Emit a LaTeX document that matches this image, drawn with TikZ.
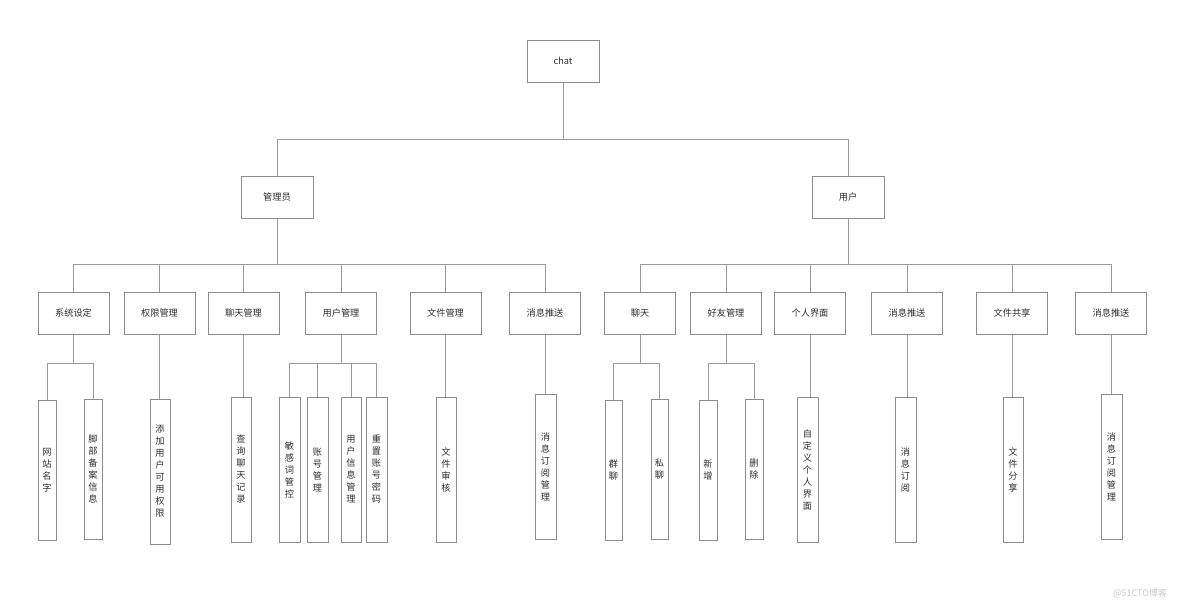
\documentclass[tikz,border=0pt]{standalone}
\usepackage{fontspec}
\newfontfamily\cjk{Noto Sans CJK SC}
\definecolor{linegray}{HTML}{9A9A9A}
\definecolor{boxgray}{HTML}{8C8C8C}
\definecolor{txtgray}{HTML}{2E2E2E}
\definecolor{wmgray}{HTML}{C8C8C8}
\tikzset{
  hbox/.style={draw=boxgray, line width=0.8pt, fill=white, text=txtgray,
    font=\cjk\fontsize{9.2}{12}\selectfont, inner sep=0pt,
    minimum width=71pt, minimum height=42pt},
  vbox/.style={draw=boxgray, line width=0.8pt, fill=white, text=txtgray,
    font=\cjk\fontsize{9.2}{12}\selectfont, inner sep=0pt, align=center,
    minimum width=20pt},
  conn/.style={draw=linegray, line width=0.8pt},
}
\begin{document}
\begin{tikzpicture}[x=1pt,y=-1pt]
\useasboundingbox (0,0) rectangle (1184,607);
% top
\node[hbox, minimum width=72pt] (chat) at (563,61) {chat};
\node[hbox, minimum width=72pt] (adm) at (277,197) {管理员};
\node[hbox, minimum width=72pt] (usr) at (848,197) {用户};
% level 2
\node[hbox] (a1) at (73.5,313) {系统设定};
\node[hbox] (a2) at (159.5,313) {权限管理};
\node[hbox] (a3) at (243.5,313) {聊天管理};
\node[hbox] (a4) at (341,313) {用户管理};
\node[hbox] (a5) at (445.5,313) {文件管理};
\node[hbox] (a6) at (545,313) {消息推送};
\node[hbox] (u1) at (640,313) {聊天};
\node[hbox] (u2) at (726,313) {好友管理};
\node[hbox] (u3) at (810,313) {个人界面};
\node[hbox] (u4) at (907,313) {消息推送};
\node[hbox] (u5) at (1012,313) {文件共享};
\node[hbox] (u6) at (1111,313) {消息推送};
% level 3
\node[vbox, minimum width=18pt, minimum height=140pt] (a11) at (47,470) {网\\站\\名\\字};
\node[vbox, minimum width=18pt, minimum height=140pt] (a12) at (93,469) {脚\\部\\备\\案\\信\\息};
\node[vbox, minimum height=145pt] (a21) at (160,471.5) {添\\加\\用\\户\\可\\用\\权\\限};
\node[vbox, minimum height=145pt] (a31) at (241,469.5) {查\\询\\聊\\天\\记\\录};
\node[vbox, minimum width=21pt, minimum height=145pt] (a41) at (289.5,469.5) {敏\\感\\词\\管\\控};
\node[vbox, minimum width=21pt, minimum height=145pt] (a42) at (317.5,469.5) {账\\号\\管\\理};
\node[vbox, minimum height=145pt] (a43) at (351,469.5) {用\\户\\信\\息\\管\\理};
\node[vbox, minimum width=21pt, minimum height=145pt] (a44) at (376.5,469.5) {重\\置\\账\\号\\密\\码};
\node[vbox, minimum height=145pt] (a51) at (446,469.5) {文\\件\\审\\核};
\node[vbox, minimum width=21pt, minimum height=145pt] (a61) at (545.5,466.5) {消\\息\\订\\阅\\管\\理};
\node[vbox, minimum width=17pt, minimum height=140pt] (u11) at (613.5,470) {群\\聊};
\node[vbox, minimum width=17pt, minimum height=140pt] (u12) at (659.5,469) {私\\聊};
\node[vbox, minimum width=18pt, minimum height=140pt] (u21) at (708,470) {新\\增};
\node[vbox, minimum width=18pt, minimum height=140pt] (u22) at (754,469) {删\\除};
\node[vbox, minimum width=21pt, minimum height=145pt] (u31) at (807.5,469.5) {自\\定\\义\\个\\人\\界\\面};
\node[vbox, minimum width=21pt, minimum height=145pt] (u41) at (905.5,469.5) {消\\息\\订\\阅};
\node[vbox, minimum height=145pt] (u51) at (1013,469.5) {文\\件\\分\\享};
\node[vbox, minimum width=21pt, minimum height=145pt] (u61) at (1111.5,466.5) {消\\息\\订\\阅\\管\\理};
% connectors: top
\foreach \c in {adm,usr}
  \draw[conn] (chat.south) -- ++(0,57) -| (\c.north);
\foreach \c in {a1,a2,a3,a4,a5,a6}
  \draw[conn] (adm.south) -- ++(0,46) -| (\c.north);
\foreach \c in {u1,u2,u3,u4,u5,u6}
  \draw[conn] (usr.south) -- ++(0,46) -| (\c.north);
% connectors: level 3
\foreach \c in {a11,a12}
  \draw[conn] (a1.south) -- ++(0,29) -| (\c.north);
\foreach \c in {a41,a42,a43,a44}
  \draw[conn] (a4.south) -- ++(0,29) -| (\c.north);
\foreach \c in {u11,u12}
  \draw[conn] (u1.south) -- ++(0,29) -| (\c.north);
\foreach \c in {u21,u22}
  \draw[conn] (u2.south) -- ++(0,29) -| (\c.north);
\draw[conn] (a2.south) -- (a2.south |- a21.north);
\draw[conn] (a3.south) -- (a3.south |- a31.north);
\draw[conn] (a5.south) -- (a5.south |- a51.north);
\draw[conn] (a6.south) -- (a6.south |- a61.north);
\draw[conn] (u3.south) -- (u3.south |- u31.north);
\draw[conn] (u4.south) -- (u4.south |- u41.north);
\draw[conn] (u5.south) -- (u5.south |- u51.north);
\draw[conn] (u6.south) -- (u6.south |- u61.north);
% watermark
\node[text=wmgray, font=\cjk\fontsize{9}{11}\selectfont, inner sep=0pt] (wm) at (1140,593) {@51CTO博客};
\end{tikzpicture}
\end{document}
